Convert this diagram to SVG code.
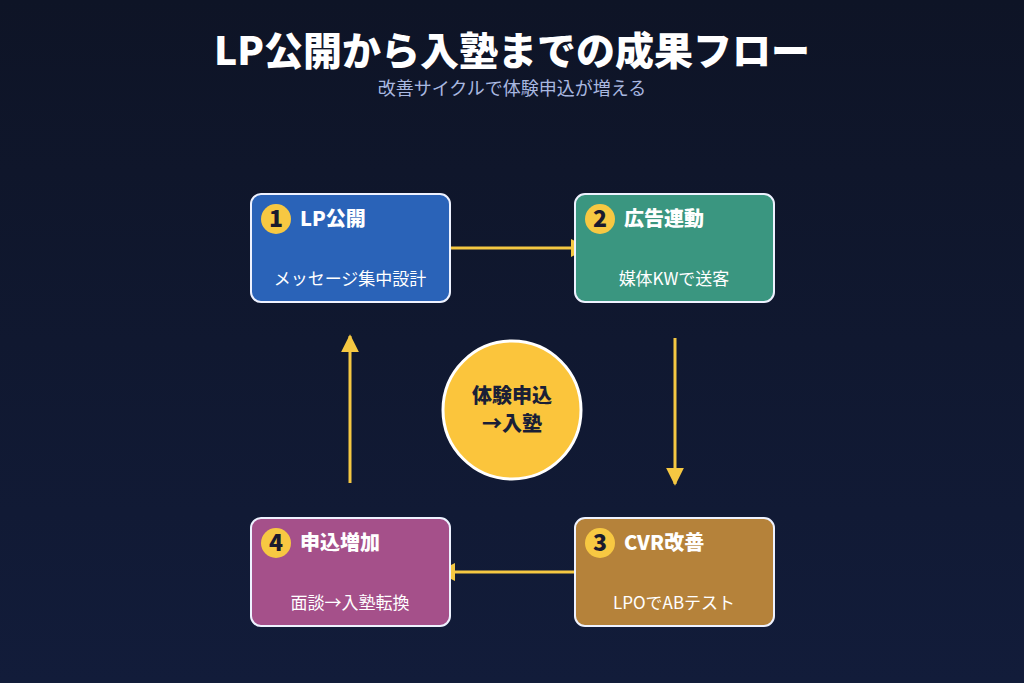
<svg xmlns="http://www.w3.org/2000/svg" width="1024" height="683" viewBox="0 0 1024 683">
<defs>
<linearGradient id="bg" x1="0" y1="0" x2="0" y2="1"><stop offset="0" stop-color="#0e1426"/><stop offset="1" stop-color="#121c3a"/></linearGradient>
<marker id="ah" viewBox="0 0 10 10" refX="9" refY="5" markerWidth="6" markerHeight="6" orient="auto"><path d="M0,0 L10,5 L0,10 z" fill="#f5c842"/></marker>
<style>
text{font-family:"Noto Sans CJK JP","Noto Sans",sans-serif}
.box{stroke:#eef2ff;stroke-width:2}
.ttl{fill:#fff;font-size:20px;font-weight:900}
.sub{fill:#fff;font-size:17px;text-anchor:middle}
.bd{fill:#f7c842}
.num{fill:#1a1a2e;font-size:23px;font-weight:900;text-anchor:middle}
.con{stroke:#f5c842;stroke-width:3;fill:none;marker-end:url(#ah)}
</style>
</defs>
<rect width="1024" height="683" fill="url(#bg)"/>
<text x="512" y="65" text-anchor="middle" fill="#fff" font-size="39" font-weight="900">LP公開から入塾までの成果フロー</text>
<text x="512" y="95" text-anchor="middle" fill="#a9b8e0" font-size="18">改善サイクルで体験申込が増える</text>
<g id="connectors">
<line class="con" x1="440" y1="248" x2="587" y2="248"/>
<line class="con" x1="675" y1="338" x2="675" y2="484"/>
<line class="con" x1="585" y1="572" x2="439" y2="572"/>
<line class="con" x1="350" y1="483" x2="350" y2="336"/>
</g>
<g id="n1"><rect class="box" x="251" y="194" width="199" height="108" rx="10" fill="#2a63b8"/><circle class="bd" cx="276" cy="219" r="15"/><text class="num" x="276" y="227">1</text><text class="ttl" x="300" y="226">LP公開</text><text class="sub" x="350" y="285">メッセージ集中設計</text></g>
<g id="n2"><rect class="box" x="575" y="194" width="199" height="108" rx="10" fill="#3a9680"/><circle class="bd" cx="600" cy="219" r="15"/><text class="num" x="600" y="227">2</text><text class="ttl" x="624" y="226">広告連動</text><text class="sub" x="674" y="285">媒体KWで送客</text></g>
<g id="n3"><rect class="box" x="575" y="518" width="199" height="108" rx="10" fill="#b5823a"/><circle class="bd" cx="600" cy="543" r="15"/><text class="num" x="600" y="551">3</text><text class="ttl" x="624" y="550">CVR改善</text><text class="sub" x="674" y="609">LPOでABテスト</text></g>
<g id="n4"><rect class="box" x="251" y="518" width="199" height="108" rx="10" fill="#a5508a"/><circle class="bd" cx="276" cy="543" r="15"/><text class="num" x="276" y="551">4</text><text class="ttl" x="300" y="550">申込増加</text><text class="sub" x="350" y="609">面談→入塾転換</text></g>
<g id="center"><circle cx="512" cy="410" r="69" fill="#fbc53c" stroke="#fff" stroke-width="3"/><text x="512" y="403" text-anchor="middle" fill="#1a1f36" font-size="20" font-weight="900">体験申込</text><text x="512" y="431" text-anchor="middle" fill="#1a1f36" font-size="20" font-weight="900">→入塾</text></g>
</svg>
